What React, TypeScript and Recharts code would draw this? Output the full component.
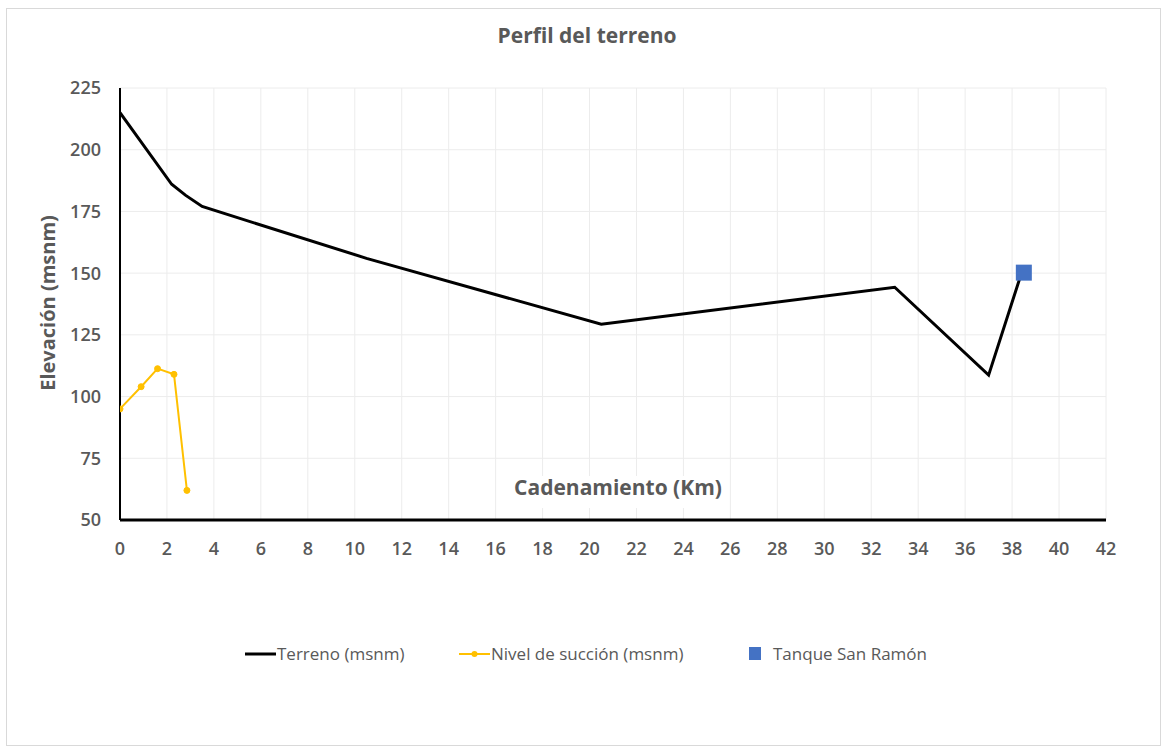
import React from "react";
import {
  ComposedChart,
  Line,
  Scatter,
  XAxis,
  YAxis,
  CartesianGrid,
  Legend,
} from "recharts";

const terrenoKm = [0, 2.2, 2.8, 3.5, 10.5, 20.5, 33, 37, 38.4];
const terrenoElev = [215, 186, 181.5, 177, 156, 129.3, 144.3, 108.7, 150];

const succionKm = [0, 0.9, 1.6, 2.3, 2.85];
const succionElev = [95, 104, 111.3, 109, 62];

const tanqueKm = [38.5];
const tanqueElev = [150.2];

const xTicks = [0, 2, 4, 6, 8, 10, 12, 14, 16, 18, 20, 22, 24, 26, 28, 30, 32, 34, 36, 38, 40, 42];
const yTicks = [50, 75, 100, 125, 150, 175, 200, 225];

const terrenoData = terrenoKm.map((x, i) => ({ x, y: terrenoElev[i] }));
const succionData = succionKm.map((x, i) => ({ x, y: succionElev[i] }));
const tanqueData = tanqueKm.map((x, i) => ({ x, y: tanqueElev[i] }));

const FONT = "'Open Sans', 'Liberation Sans', sans-serif";
const GRAY = "#595959";

const tickStyle = { fill: GRAY, fontSize: 18, fontWeight: 600, fontFamily: FONT };

const SquareShape = (props: any) => {
  const { cx, cy } = props;
  const s = 16;
  return <rect x={cx - s / 2} y={cy - s / 2} width={s} height={s} fill="#4472C4" />;
};

const SuccionDot = (props: any) => {
  const { cx, cy, index } = props;
  return <circle key={`sd-${index}`} cx={cx} cy={cy} r={3} fill="#FFC000" stroke="#FFC000" />;
};

const XLabel = (props: any) => {
  const vb = props.viewBox || { x: 0, y: 0, width: 0 };
  const cx = vb.x + vb.width / 2 + 5;
  return (
    <g>
      <rect x={cx - 110} y={vb.y - 44} width={220} height={32} fill="#ffffff" />
      <text
        x={cx}
        y={vb.y - 25}
        textAnchor="middle"
        fill={GRAY}
        fontSize={21}
        fontWeight={700}
        fontFamily={FONT}
      >
        Cadenamiento (Km)
      </text>
    </g>
  );
};

const YLabel = () => {
  return (
    <text
      x={0}
      y={0}
      transform="translate(55, 303) rotate(-90)"
      textAnchor="middle"
      fill={GRAY}
      fontSize={20}
      fontWeight={700}
      fontFamily={FONT}
    >
      Elevación (msnm)
    </text>
  );
};

const LegendContent = () => {
  const txt: React.CSSProperties = {
    position: "absolute",
    top: 0,
    fontFamily: FONT,
    fontSize: 17,
    color: GRAY,
    lineHeight: "22px",
    whiteSpace: "nowrap",
  };
  return (
    <div style={{ position: "relative", width: 1167, height: 24 }}>
      <svg style={{ position: "absolute", left: 0, top: 0 }} width={1167} height={24}>
        <line x1={245} y1={11} x2={276} y2={11} stroke="#000" strokeWidth={3} />
        <line x1={459} y1={11} x2={490} y2={11} stroke="#FFC000" strokeWidth={2} />
        <circle cx={474.5} cy={11} r={3} fill="#FFC000" />
        <rect x={749} y={4} width={12} height={13} fill="#4472C4" />
      </svg>
      <span style={{ ...txt, left: 277 }}>Terreno (msnm)</span>
      <span style={{ ...txt, left: 491 }}>Nivel de succión (msnm)</span>
      <span style={{ ...txt, left: 773 }}>Tanque San Ramón</span>
    </div>
  );
};

export default function App() {
  return (
    <div
      style={{
        position: "absolute",
        left: 0,
        top: 0,
        width: 1167,
        height: 749,
        background: "#ffffff",
      }}
    >
      <div
        style={{
          position: "absolute",
          left: 6,
          top: 8,
          width: 1155,
          height: 738,
          border: "1px solid #d9d9d9",
          boxSizing: "border-box",
        }}
      />
      <div
        style={{
          position: "absolute",
          left: 0,
          top: 21,
          width: 1174,
          textAlign: "center",
          fontFamily: FONT,
          fontSize: 21,
          fontWeight: 700,
          color: GRAY,
        }}
      >
        Perfil del terreno
      </div>
      <div style={{ position: "absolute", left: 0, top: 0 }}>
        <ComposedChart
          width={1167}
          height={749}
          margin={{ top: 88, right: 61, bottom: 189, left: 60 }}
        >
          <CartesianGrid stroke="#ececec" strokeWidth={1} />
          <XAxis
            type="number"
            dataKey="x"
            domain={[0, 42]}
            ticks={xTicks}
            interval={0}
            allowDataOverflow
            axisLine={{ stroke: "#000", strokeWidth: 3 }}
            tickLine={false}
            tickMargin={16}
            tick={tickStyle}
            height={40}
            label={<XLabel />}
          />
          <YAxis
            type="number"
            dataKey="y"
            domain={[50, 225]}
            ticks={yTicks}
            interval={0}
            allowDataOverflow
            axisLine={{ stroke: "#000", strokeWidth: 2 }}
            tickLine={false}
            tickMargin={13}
            tick={tickStyle}
            width={60}
            label={<YLabel />}
          />
          <Line
            data={terrenoData}
            dataKey="y"
            name="Terreno (msnm)"
            type="linear"
            stroke="#000000"
            strokeWidth={3}
            dot={false}
            activeDot={false}
            isAnimationActive={false}
          />
          <Line
            data={succionData}
            dataKey="y"
            name="Nivel de succión (msnm)"
            type="linear"
            stroke="#FFC000"
            strokeWidth={2}
            dot={<SuccionDot />}
            activeDot={false}
            isAnimationActive={false}
          />
          <Scatter
            data={tanqueData}
            dataKey="y"
            name="Tanque San Ramón"
            shape={<SquareShape />}
            isAnimationActive={false}
          />
          <Legend
            verticalAlign="middle"
            align="center"
            content={<LegendContent />}
            wrapperStyle={{ position: "absolute", left: 0, top: 643, width: 1167 }}
          />
        </ComposedChart>
      </div>
    </div>
  );
}
